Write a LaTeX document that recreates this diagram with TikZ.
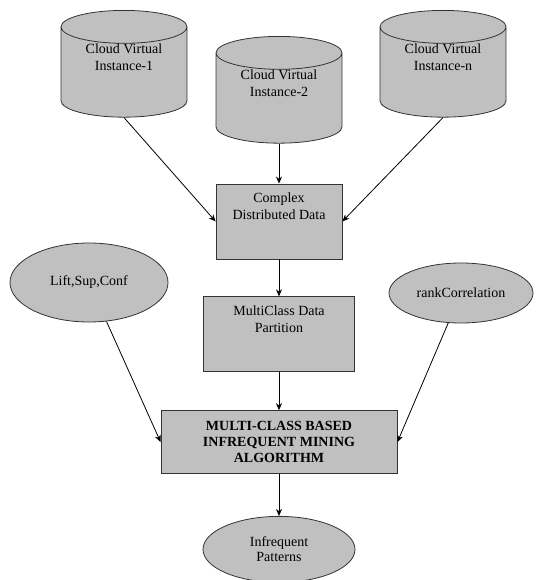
\documentclass[tikz,border=0pt]{standalone}
\usepackage{fontspec}
\setmainfont{Liberation Serif}
\usetikzlibrary{positioning, shapes.geometric, arrows.meta}
\definecolor{boxgray}{RGB}{192,192,192}
\tikzstyle{store} = [cylinder, shape border rotate=90, aspect=0.43, draw=black!80, fill=boxgray, minimum width=126pt, minimum height=106pt, align=center, inner sep=0pt, text height=27pt, text depth=30pt]
\tikzstyle{process} = [rectangle, draw=black!80, fill=boxgray, minimum height=75pt, align=center, text height=27pt, text depth=30pt]
\tikzstyle{algo} = [rectangle, draw=black!80, fill=boxgray, minimum width=236pt, minimum height=63pt, align=center, font=\fontsize{14}{16}\selectfont\bfseries]
\tikzstyle{param} = [ellipse, draw=black!80, fill=boxgray, align=center, inner sep=0pt]
\tikzstyle{arrow} = [->, >={Stealth[length=7pt,width=6pt]}]
\tikzstyle{every node}=[font=\fontsize{14}{17}\selectfont, node distance=37pt]

\begin{document}
\begin{tikzpicture}[x=1pt, y=-1pt, line width=0.8pt]
		\useasboundingbox (0,0) rectangle (535,580);
		%云实例
		\node (inst1) [store, anchor=north] at (124,10) {Cloud Virtual\\Instance-1};
		\node (inst2) [store, anchor=north] at (279,36) {Cloud Virtual\\Instance-2};
		\node (instn) [store, anchor=north] at (443,10) {Cloud Virtual\\Instance-n};
		
		%中间处理
		\node (complex) [process, minimum width=126pt, below=40pt of inst2] {Complex\\Distributed Data};
		\node (partition) [process, minimum width=151pt, below=of complex] {MultiClass Data\\Partition};
		\node (mining) [algo, below=38pt of partition] {MULTI-CLASS BASED\\INFREQUENT MINING\\ALGORITHM};
		\node (result) [param, minimum width=152pt, minimum height=66pt, below=42pt of mining, font=\fontsize{14}{15}\selectfont] {Infrequent\\Patterns};
		
		%度量
		\node (measure) [param, minimum width=158pt, minimum height=79pt] at (89,282.5) {Lift,Sup,Conf};
		\node (rank) [param, minimum width=144pt, minimum height=60pt] at (461,293) {rankCorrelation};
		
		%连接
		\draw [arrow](inst1.south) -- (complex.west);
		\draw [arrow](inst2.south) -- (complex.north);
		\draw [arrow](instn.south) -- (complex.east);
		\draw [arrow](complex) -- (partition);
		\draw [arrow](partition) -- (mining);
		\draw [arrow](measure) -- (mining.west);
		\draw [arrow](rank) -- (mining.east);
		\draw [arrow](mining) -- (result);
	\end{tikzpicture}
\end{document}
